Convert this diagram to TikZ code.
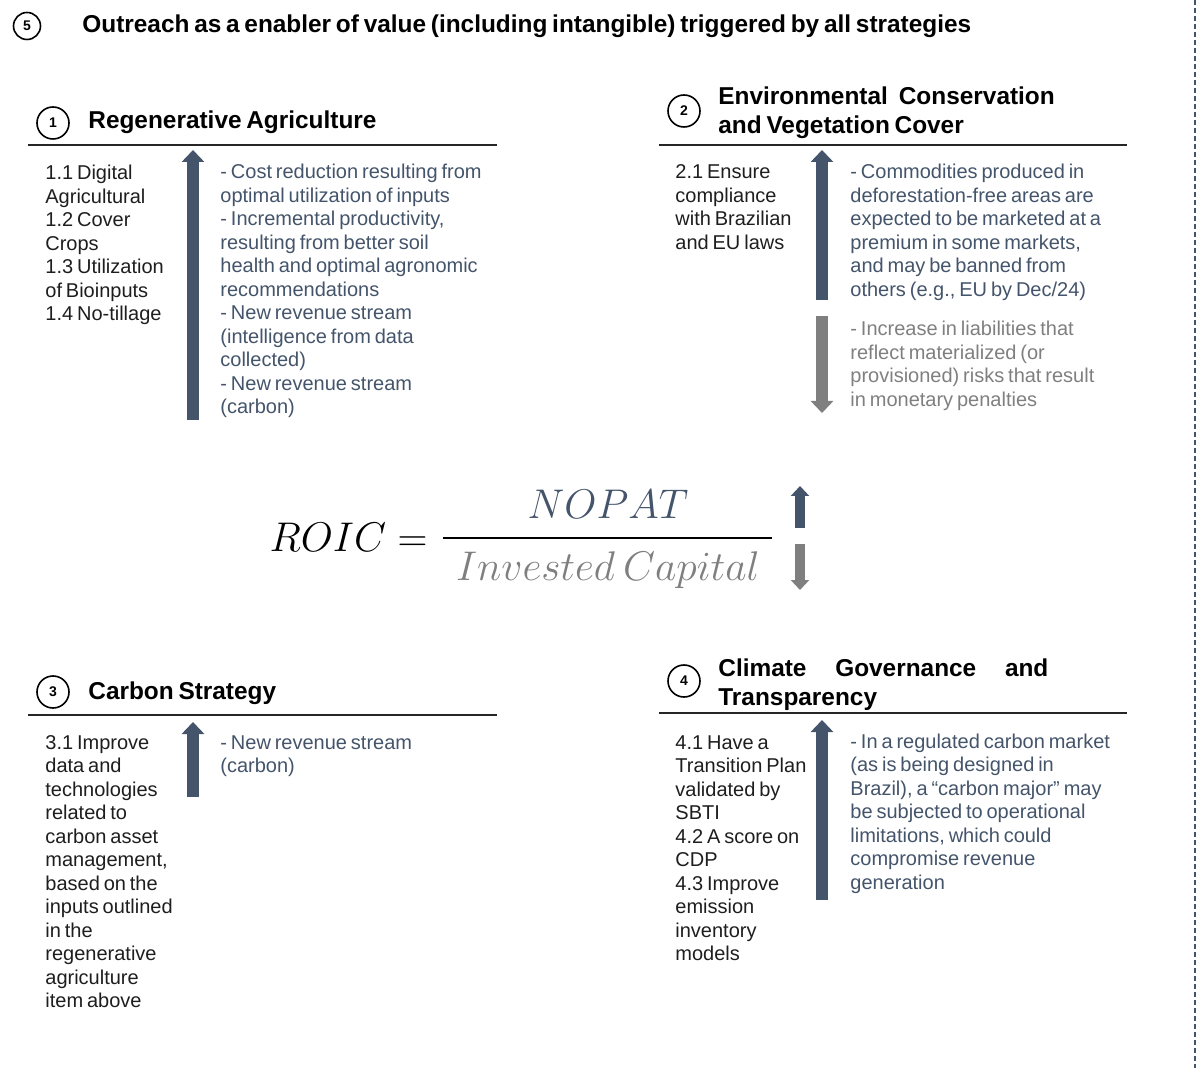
\documentclass[tikz,border=0pt]{standalone}
\usepackage{fontspec}
\setmainfont[WordSpace=0.7]{Liberation Sans}
\usetikzlibrary{arrows.meta}
\definecolor{navyc}{HTML}{44546A}
\definecolor{grayc}{HTML}{7F7F7F}
\definecolor{txtc}{HTML}{1E1E1E}
% multi-line nodes sit on the baseline of their last line
\tikzset{
  num/.style={draw,thick,circle,minimum size=16pt,inner sep=0pt,font=\bfseries\scriptsize},
  ttl/.style={anchor=base west,inner sep=0pt,align=left,font=\bfseries\fontsize{12.2}{14.5}\selectfont},
  lft/.style={anchor=base west,inner sep=0pt,align=left,text=txtc,font=\fontsize{10}{11.75}\selectfont},
  rgt/.style={lft,text=navyc},
  rgtg/.style={lft,text=grayc},
  uparr/.style={navyc,line width=6pt,-{Triangle[width=11pt,length=6pt]}},
  dnarr/.style={uparr,grayc},
  rule/.style={line width=0.75pt,black!85},
  formula/.style={inner sep=0pt,font=\huge},
}

\begin{document}
\begin{tikzpicture}[x=0.5pt,y=-0.5pt]
\useasboundingbox (0,0) rectangle (1197,1068);
\draw[navyc,line width=1pt,dash pattern=on 2.5pt off 1.5pt] (1195,0) -- (1195,1068);

% outreach
\node[num,minimum size=13.5pt] (n5) at (27,26) {5};
\node[ttl] (t5) at (82,33) {Outreach as a enabler of value (including intangible) triggered by all strategies};

% regenerative agriculture
\node[num] (n1) at (53,123) {1};
\node[ttl] (t1) at (88,129) {Regenerative Agriculture};
\draw[rule] (28,145) -- (497,145);
\node[lft] (l1) at (45,321) {1.1 Digital\\Agricultural\\1.2 Cover\\Crops\\1.3 Utilization\\of Bioinputs\\1.4 No-tillage};
\coordinate (a1b) at (193,420);
\coordinate (a1t) at (193,150);
\draw[uparr] (a1b) -- (a1t);
\node[rgt] (r1) at (220,414) {- Cost reduction resulting from\\optimal utilization of inputs\\- Incremental productivity,\\resulting from better soil\\health and optimal agronomic\\recommendations\\- New revenue stream\\(intelligence from data\\collected)\\- New revenue stream\\(carbon)};

% environmental conservation
\node[num] (n2) at (684,111) {2};
\node[ttl] (t2) at (718,134) {Environmental\hspace{0.45em}Conservation\\and Vegetation Cover};
\draw[rule] (659,145) -- (1127,145);
\node[lft] (l2) at (675,249.5) {2.1 Ensure\\compliance\\with Brazilian\\and EU laws};
\coordinate (a2b) at (822,300);
\coordinate (a2t) at (822,150);
\draw[uparr] (a2b) -- (a2t);
\coordinate (d2t) at (822,316);
\coordinate (d2b) at (822,413);
\draw[dnarr] (d2t) -- (d2b);
\node[rgt] (r2) at (850,296.5) {- Commodities produced in\\deforestation-free areas are\\expected to be marketed at a\\premium in some markets,\\and may be banned from\\others (e.g., EU by Dec/24)};
\node[rgtg] (g2) at (850,406.5) {- Increase in liabilities that\\reflect materialized (or\\provisioned) risks that result\\in monetary penalties};

% roic
\node[formula,anchor=base east] (roic) at (428,552) {$ROIC =$};
\node[formula,anchor=base,text=navyc] (nopat) at (608,518) {$NOPAT$};
\node[formula,anchor=base,text=grayc] (cap) at (608,580) {$Invested\ Capital$};
\coordinate (barl) at (443,538);
\coordinate (barr) at (772,538);
\draw[line width=1pt] (barl) -- (barr);
\coordinate (fub) at (800,528);
\coordinate (fut) at (800,486);
\draw[uparr,line width=5pt,-{Triangle[width=9pt,length=5pt]}] (fub) -- (fut);
\coordinate (fdt) at (800,544);
\coordinate (fdb) at (800,590);
\draw[dnarr,line width=5pt,-{Triangle[width=9pt,length=5pt]}] (fdt) -- (fdb);

% carbon strategy
\node[num] (n3) at (53,692) {3};
\node[ttl] (t3) at (88,699) {Carbon Strategy};
\draw[rule] (28,715) -- (497,715);
\node[lft] (l3) at (45,1007.5) {3.1 Improve\\data and\\technologies\\related to\\carbon asset\\management,\\based on the\\inputs outlined\\in the\\regenerative\\agriculture\\item above};
\coordinate (a3b) at (193,797);
\coordinate (a3t) at (193,722);
\draw[uparr] (a3b) -- (a3t);
\node[rgt] (r3) at (220,772.5) {- New revenue stream\\(carbon)};

% climate governance (fixed width, so anchored on its first line)
\node[num] (n4) at (684,681) {4};
\node[ttl,text width=165pt] (t4) at (718,676) {Climate\hfill Governance\hfill and\\Transparency};
\draw[rule] (659,713) -- (1127,713);
\node[lft] (l4) at (675,960.5) {4.1 Have a\\Transition Plan\\validated by\\SBTI\\4.2 A score on\\CDP\\4.3 Improve\\emission\\inventory\\models};
\coordinate (a4b) at (822,900);
\coordinate (a4t) at (822,720);
\draw[uparr] (a4b) -- (a4t);
\node[rgt] (r4) at (850,889) {- In a regulated carbon market\\(as is being designed in\\Brazil), a “carbon major” may\\be subjected to operational\\limitations, which could\\compromise revenue\\generation};

\end{tikzpicture}
\end{document}
